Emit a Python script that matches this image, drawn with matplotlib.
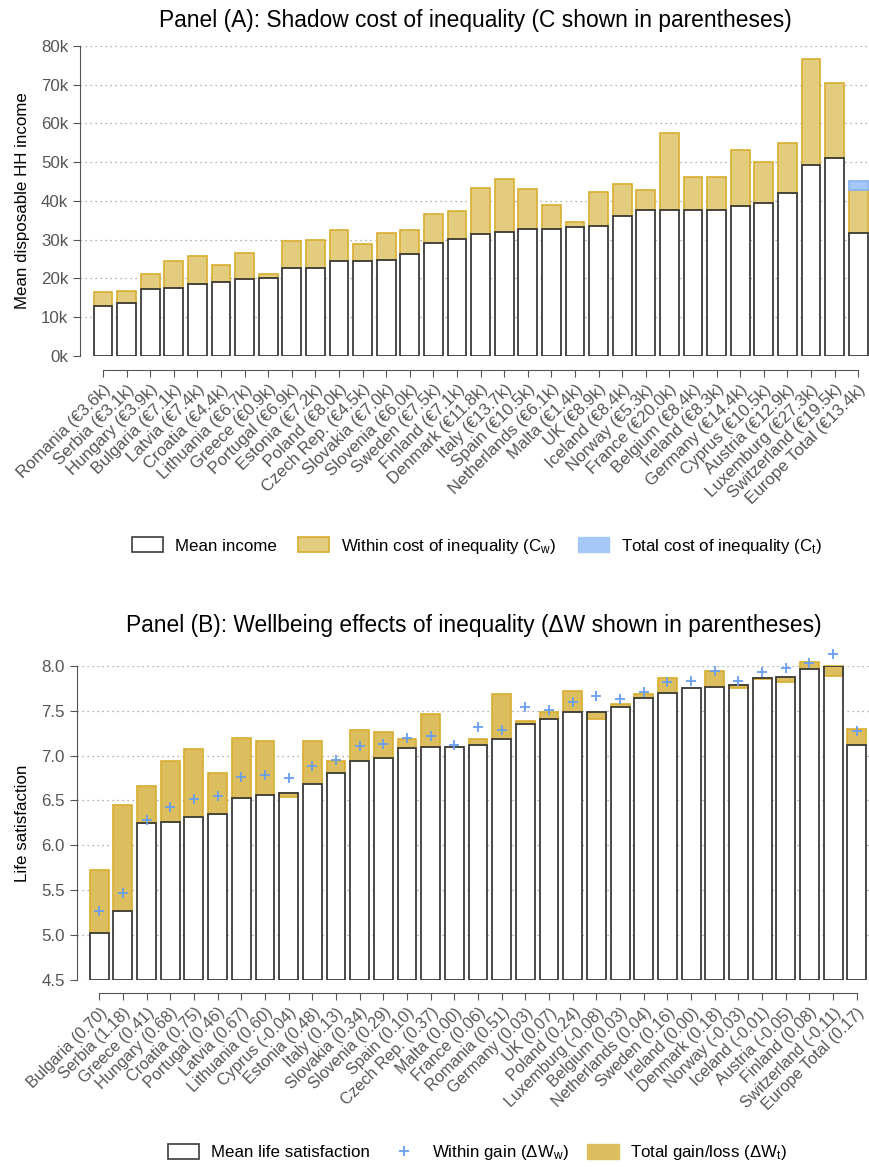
import numpy as np
import matplotlib
matplotlib.use("Agg")
import matplotlib.pyplot as plt
from matplotlib.patches import Patch
from matplotlib.lines import Line2D

plt.rcParams['font.family'] = ['Liberation Sans', 'DejaVu Sans']
plt.rcParams['mathtext.default'] = 'regular'

# Panel A: mean disposable household income and shadow cost (thousand EUR)
countries_a = ["Romania", "Serbia", "Hungary", "Bulgaria", "Latvia", "Croatia",
               "Lithuania", "Greece", "Portugal", "Estonia", "Poland", "Czech Rep.",
               "Slovakia", "Slovenia", "Sweden", "Finland", "Denmark", "Italy",
               "Spain", "Netherlands", "Malta", "UK", "Iceland", "Norway", "France",
               "Belgium", "Ireland", "Germany", "Cyprus", "Austria", "Luxemburg",
               "Switzerland", "Europe Total"]
income = [12.9, 13.6, 17.3, 17.5, 18.5, 19.0, 19.9, 20.2, 22.8, 22.8, 24.5, 24.5,
          24.8, 26.4, 29.2, 30.2, 31.5, 32.0, 32.7, 32.8, 33.2, 33.5, 36.1, 37.6,
          37.6, 37.7, 37.8, 38.8, 39.5, 42.0, 49.4, 51.0, 31.7]
cost_label = [3.6, 3.1, 3.9, 7.1, 7.4, 4.4, 6.7, 0.9, 6.9, 7.2, 8.0, 4.5, 7.0, 6.0,
              7.5, 7.1, 11.8, 13.7, 10.5, 6.1, 1.4, 8.9, 8.4, 5.3, 20.0, 8.4, 8.3,
              14.4, 10.5, 12.9, 27.3, 19.5, 13.4]
cost_within = [3.6, 3.1, 3.9, 7.1, 7.4, 4.4, 6.7, 0.9, 6.9, 7.2, 8.0, 4.5, 7.0, 6.0,
               7.5, 7.1, 11.8, 13.7, 10.5, 6.1, 1.4, 8.9, 8.4, 5.3, 20.0, 8.4, 8.3,
               14.4, 10.5, 12.9, 27.3, 19.5, 11.1]
cost_total_europe = 13.4

# Panel B: mean life satisfaction and wellbeing effects
countries_b = ["Bulgaria", "Serbia", "Greece", "Hungary", "Croatia", "Portugal",
               "Latvia", "Lithuania", "Cyprus", "Estonia", "Italy", "Slovakia",
               "Slovenia", "Spain", "Czech Rep.", "Malta", "France", "Romania",
               "Germany", "UK", "Poland", "Luxemburg", "Belgium", "Netherlands",
               "Sweden", "Ireland", "Denmark", "Norway", "Iceland", "Austria",
               "Finland", "Switzerland", "Europe Total"]
life_sat = [5.02, 5.27, 6.25, 6.26, 6.32, 6.35, 6.53, 6.56, 6.58, 6.68, 6.81, 6.94,
            6.97, 7.08, 7.09, 7.10, 7.12, 7.18, 7.35, 7.41, 7.48, 7.49, 7.54, 7.64,
            7.70, 7.75, 7.76, 7.78, 7.86, 7.87, 7.96, 8.00, 7.12]
gain_total = [0.70, 1.18, 0.41, 0.68, 0.75, 0.46, 0.67, 0.60, -0.04, 0.48, 0.13, 0.34,
              0.29, 0.10, 0.37, 0.00, 0.06, 0.51, 0.03, 0.07, 0.24, -0.08, 0.03, 0.04,
              0.16, 0.00, 0.18, -0.03, -0.01, -0.05, 0.08, -0.11, 0.17]
gain_within = [0.25, 0.20, 0.03, 0.17, 0.20, 0.20, 0.23, 0.22, 0.17, 0.20, 0.14, 0.17,
               0.16, 0.12, 0.13, 0.02, 0.20, 0.10, 0.19, 0.10, 0.12, 0.17, 0.09, 0.07,
               0.12, 0.08, 0.18, 0.05, 0.07, 0.10, 0.07, 0.13, 0.15]

GOLD_A = '#E4CC7E'
GOLD_B = '#DCBE5E'
GOLD_EDGE = '#D8AE30'
BLUE = '#A6C8F8'
BLUE_EDGE = '#86B2F2'
PLUS = '#6A9EF0'
AXCOL = '#555555'
W = 0.8
FS = 12.2

fig = plt.figure(figsize=(8.7, 11.67), dpi=100)


def style_axes(ax, n, lo, hi, outward):
    for s in ['top', 'right']:
        ax.spines[s].set_visible(False)
    ax.spines['left'].set_bounds(lo, hi)
    ax.spines['left'].set_color(AXCOL)
    ax.spines['bottom'].set_position(('outward', outward))
    ax.spines['bottom'].set_bounds(0, n - 1)
    ax.spines['bottom'].set_color(AXCOL)
    ax.tick_params(axis='both', direction='out', length=5, color=AXCOL,
                   labelcolor=AXCOL, labelsize=FS)
    ax.yaxis.grid(True, linestyle=(0, (1, 3)), color='#999999', lw=0.9)
    ax.set_axisbelow(True)


def rotate_labels(ax, labels, size):
    ax.set_xticks(np.arange(len(labels)))
    ax.set_xticklabels(labels)
    for t in ax.get_xticklabels():
        t.set_rotation(45)
        t.set_ha('right')
        t.set_va('top')
        t.set_rotation_mode('anchor')
        t.set_fontsize(size)


# ---- Panel A ----
axa = fig.add_axes([0.09195, 0.69495, 0.90805, 0.26564])
n = len(countries_a)
x = np.arange(n)
inc = np.array(income)
cw = np.array(cost_within)
style_axes(axa, n, 0, 80, 10)
axa.bar(x, inc, W, color='white', lw=0, zorder=2)
axa.bar(x, cw, W, bottom=inc, color=GOLD_A, edgecolor=GOLD_EDGE, lw=1.2, zorder=3)
axa.bar(x[-1], cost_total_europe - cw[-1], W, bottom=inc[-1] + cw[-1],
        color=BLUE, edgecolor=BLUE_EDGE, lw=1.2, zorder=3)
axa.bar(x, inc, W, fill=False, edgecolor='#3c3c3c', lw=1.3, zorder=4)
axa.set_xlim(-0.975, 32.5)
axa.set_ylim(0, 80)
axa.set_yticks(np.arange(0, 81, 10))
axa.set_yticklabels([f"{v}k" for v in range(0, 81, 10)])
rotate_labels(axa, [f"{c} (€{v:.1f}k)" for c, v in zip(countries_a, cost_label)], FS)
axa.set_ylabel("Mean disposable HH income", fontsize=FS, labelpad=8)
axa.set_title("Panel (A): Shadow cost of inequality (C shown in parentheses)",
              fontsize=16.4, pad=14)

leg_a = [Patch(facecolor='white', edgecolor='#3c3c3c', lw=1.2),
         Patch(facecolor=GOLD_A, edgecolor=GOLD_EDGE, lw=1.2),
         Patch(facecolor=BLUE, edgecolor=BLUE)]
fig.legend(leg_a, ["Mean income", "Within cost of inequality (C$_w$)",
                   "Total cost of inequality (C$_t$)"],
           loc='center', bbox_to_anchor=(0.548, 0.532), ncol=3, frameon=False,
           fontsize=FS, handlelength=1.85, handleheight=1.0, handletextpad=0.7,
           columnspacing=1.25)

# ---- Panel B ----
axb = fig.add_axes([0.08816, 0.16024, 0.91184, 0.26932])
n = len(countries_b)
x = np.arange(n)
ls = np.array(life_sat)
gt = np.array(gain_total)
gw = np.array(gain_within)
style_axes(axb, n, 4.5, 8.0, 9.4)
axb.bar(x, ls - 4.5, W, bottom=4.5, color='white', lw=0, zorder=2)
axb.bar(x, gt, W, bottom=ls, color=GOLD_B, edgecolor=GOLD_EDGE, lw=1.2,
        zorder=3, clip_on=False)
axb.bar(x, ls - 4.5, W, bottom=4.5, fill=False, edgecolor='#3c3c3c', lw=1.3, zorder=4)
axb.plot(x, ls + gw, '+', color=PLUS, ms=7, mew=1.3, zorder=5, clip_on=False)
axb.set_xlim(-0.954, 32.56)
axb.set_ylim(4.5, 8.0)
axb.set_yticks(np.arange(4.5, 8.01, 0.5))
axb.set_yticklabels([f"{v:.1f}" for v in np.arange(4.5, 8.01, 0.5)])
rotate_labels(axb, [f"{c} ({v:.2f})" for c, v in zip(countries_b, gain_total)], 11.6)
axb.set_ylabel("Life satisfaction", fontsize=FS, labelpad=8)
axb.set_title("Panel (B): Wellbeing effects of inequality (ΔW shown in parentheses)",
              fontsize=16.4, pad=24)

leg_b = [Patch(facecolor='white', edgecolor='#3c3c3c', lw=1.2),
         Line2D([], [], ls='none', marker='+', color=PLUS, ms=7, mew=1.3),
         Patch(facecolor=GOLD_B, edgecolor=GOLD_B)]
fig.legend(leg_b, ["Mean life satisfaction", "Within gain (ΔW$_w$)",
                   "Total gain/loss (ΔW$_t$)"],
           loc='center', bbox_to_anchor=(0.549, 0.012), ncol=3, frameon=False,
           fontsize=FS, handlelength=1.85, handleheight=1.0, handletextpad=0.7,
           columnspacing=1.1)

fig.savefig("out.png", dpi=100)
